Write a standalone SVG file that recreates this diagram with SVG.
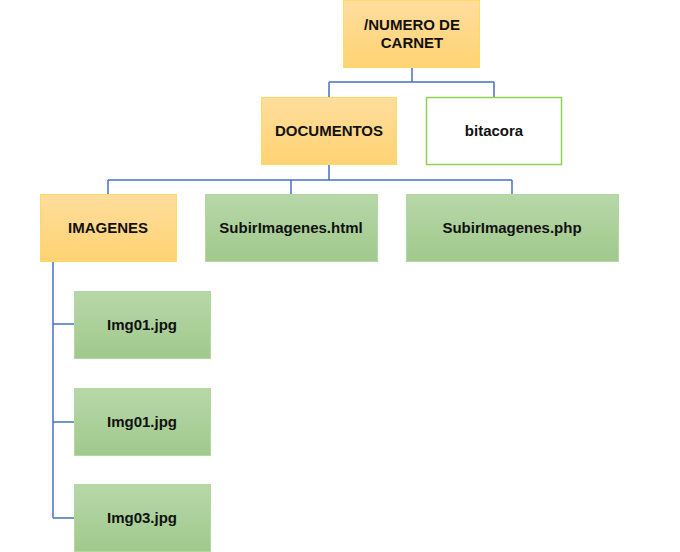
<svg xmlns="http://www.w3.org/2000/svg" width="680" height="552" viewBox="0 0 680 552">
<defs>
<linearGradient id="gOr" x1="0" y1="0" x2="0" y2="1">
<stop offset="0" stop-color="#FFDD9C"/>
<stop offset="1" stop-color="#FFD373"/>
</linearGradient>
<linearGradient id="gGr" x1="0" y1="0" x2="0" y2="1">
<stop offset="0" stop-color="#B7D7A8"/>
<stop offset="1" stop-color="#A0C98C"/>
</linearGradient>
<style>
.or{fill:url(#gOr);stroke:#FFD966;stroke-width:1}
.gr{fill:url(#gGr);stroke:#B3D7A1;stroke-width:1}
.wh{fill:#FFFFFF;stroke:#92D050;stroke-width:1.5}
.t{font-family:"Liberation Sans",Arial,sans-serif;font-weight:bold;font-size:15px;fill:#111;text-anchor:middle}
.c{fill:none;stroke:#4472C4;stroke-width:1.5}
</style>
</defs>
<rect width="680" height="552" fill="#FFFFFF"/>
<g id="connectors">
<path class="c" d="M412 68V82M329 82H494M329 82V97M494 82V97"/>
<path class="c" d="M329 165V180M108 180H512M108 180V194M291 180V194M512 180V194"/>
<path class="c" d="M53 262V518M53 324H74M53 422H74M53 518H74"/>
</g>
<g id="root">
<rect class="or" x="343.5" y="0.5" width="136" height="67"/>
<text class="t" x="412" y="30">/NUMERO DE</text>
<text class="t" x="412" y="48">CARNET</text>
</g>
<g id="documentos">
<rect class="or" x="261.5" y="97.5" width="135" height="67"/>
<text class="t" x="329" y="136">DOCUMENTOS</text>
</g>
<g id="bitacora">
<rect class="wh" x="426.5" y="97.5" width="135" height="67"/>
<text class="t" x="494" y="136">bitacora</text>
</g>
<g id="imagenes">
<rect class="or" x="40.5" y="194.5" width="136" height="67"/>
<text class="t" x="108" y="233">IMAGENES</text>
</g>
<g id="subirhtml">
<rect class="gr" x="205.5" y="194.5" width="172" height="67"/>
<text class="t" x="291" y="233">SubirImagenes.html</text>
</g>
<g id="subirphp">
<rect class="gr" x="406.5" y="194.5" width="212" height="67"/>
<text class="t" x="512" y="233">SubirImagenes.php</text>
</g>
<g id="img01a">
<rect class="gr" x="74.5" y="291.5" width="136" height="67"/>
<text class="t" x="142" y="330">Img01.jpg</text>
</g>
<g id="img01b">
<rect class="gr" x="74.5" y="388.5" width="136" height="67"/>
<text class="t" x="142" y="427">Img01.jpg</text>
</g>
<g id="img03">
<rect class="gr" x="74.5" y="484.5" width="136" height="67"/>
<text class="t" x="142" y="523">Img03.jpg</text>
</g>
</svg>
